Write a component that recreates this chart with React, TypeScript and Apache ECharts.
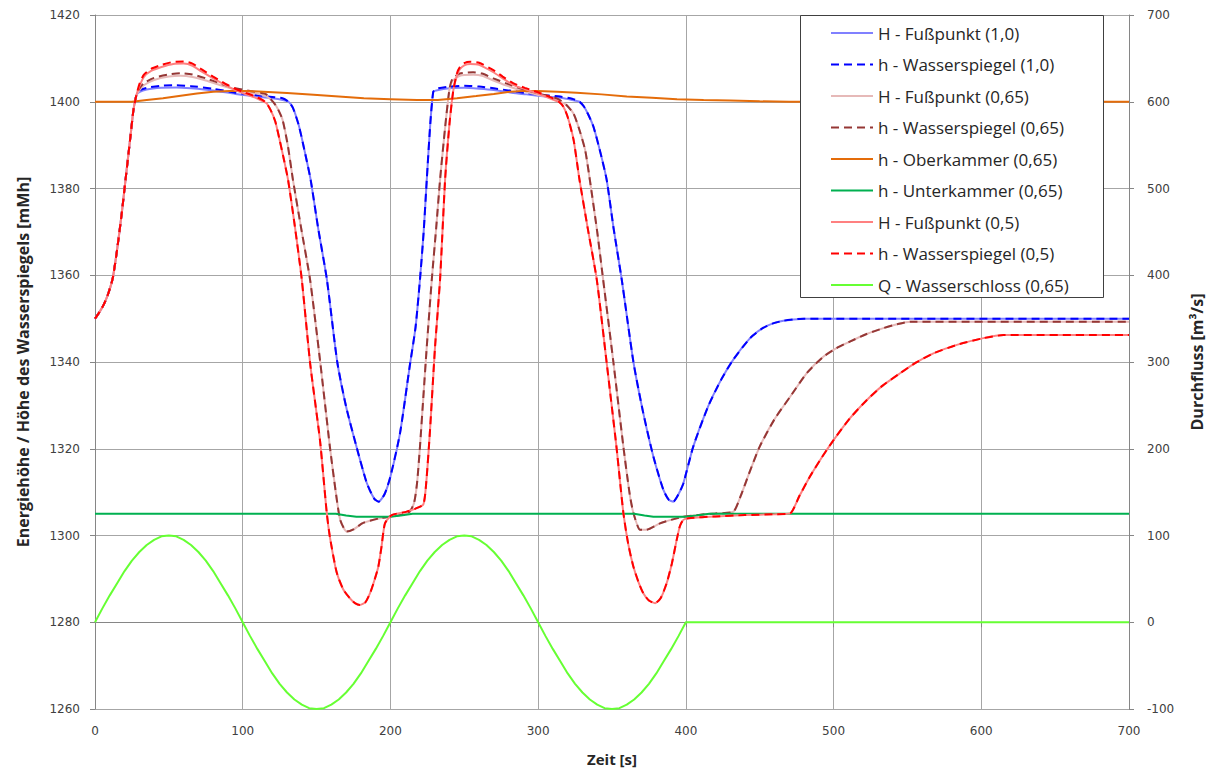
import React, { useEffect, useRef } from "react";
import * as echarts from "echarts";

type Pt = [number, number];

// Shared start of all Fußpunkt / Wasserspiegel curves (t [s], height [mMh])
const commonRise: Pt[] = [
  [0, 1350], [3, 1351.5], [6, 1353.3], [9, 1355.8], [12, 1359.3], [15, 1366], [18, 1374],
  [21, 1383], [24, 1392], [26, 1398], [28, 1401.5],
];

// ---- Variante (1,0) ----
const blueWsPeak1: Pt[] = [
  [30, 1402.6], [35, 1403.2], [45, 1403.7], [55, 1403.8], [65, 1403.6], [80, 1403],
  [95, 1402.1], [110, 1401.5], [120, 1401.1], [127, 1400.8],
];
const blueFpPeak1: Pt[] = [
  [30, 1402.2], [35, 1402.8], [45, 1403.2], [55, 1403.3], [65, 1403.1], [80, 1402.6],
  [95, 1401.8], [110, 1401.2], [120, 1400.8], [127, 1400.4],
];
const blueCycle1: Pt[] = [
  [131, 1400], [134, 1398.6], [138, 1394.5], [142, 1388.5], [146, 1382], [151, 1371],
  [157, 1359], [164, 1340], [170, 1329.7], [177, 1320.5], [184, 1312.1], [189, 1308.5],
  [192, 1307.8], [196, 1309.5], [200, 1313.6], [206.5, 1323.6], [213, 1338.9], [217, 1348],
  [220, 1359], [222.5, 1370], [224.6, 1382], [227, 1395], [229, 1402.3],
];
const blueWsPeak2: Pt[] = [
  [231, 1403], [240, 1403.5], [250, 1403.7], [260, 1403.5], [270, 1403.1], [282, 1402.5],
  [292, 1402], [305, 1401.5], [315, 1401.2], [323, 1400.7],
];
const blueFpPeak2: Pt[] = [
  [231, 1402.6], [240, 1403.1], [250, 1403.2], [260, 1403], [270, 1402.7], [282, 1402.1],
  [292, 1401.7], [305, 1401.2], [315, 1400.9], [323, 1400.4],
];
const blueTail: Pt[] = [
  [328, 1400], [331, 1398.9], [334, 1397], [337.4, 1394.3], [342, 1388.5], [346.4, 1382],
  [351, 1371], [356.6, 1359], [364.5, 1340], [371, 1328.5], [378, 1318.2], [384.8, 1310.5],
  [388.5, 1308.2], [391.5, 1307.8], [395, 1309.5], [398.3, 1312], [405, 1320.5], [415, 1329.7],
  [424, 1336], [432, 1340.5], [443.5, 1345.5], [452, 1347.8], [459, 1348.9], [466, 1349.5],
  [473, 1349.8], [480, 1350], [700, 1350],
];

// ---- Variante (0,65) ----
const brownWsPeak1: Pt[] = [
  [30, 1403], [33, 1404.3], [40, 1405.5], [50, 1406.3], [58, 1406.6], [66, 1406.3],
  [75, 1405.4], [85, 1404.2], [95, 1403.1], [105, 1402.5], [112, 1402.1], [116, 1401.7],
];
const brownFpPeak1: Pt[] = [
  [30, 1402.6], [33, 1403.8], [40, 1405], [50, 1405.8], [58, 1406], [66, 1405.7],
  [75, 1404.9], [85, 1403.8], [95, 1402.8], [105, 1402.1], [112, 1401.7], [116, 1401.3],
];
const brownCycle1: Pt[] = [
  [121, 1399.8], [124, 1398.2], [127, 1395.8], [130.5, 1390], [134, 1382], [140, 1370],
  [145.6, 1359], [152.3, 1340.5], [159, 1320.5], [163, 1310], [166, 1303.6], [170.4, 1300.9],
  [175, 1301.4], [181.5, 1302.9], [193, 1304], [206.5, 1304.7], [213, 1305.5], [216, 1307.5],
  [218, 1312], [220, 1320.5], [222.5, 1333], [224.6, 1343.5], [228, 1359], [231, 1371],
  [233.6, 1382], [237, 1394], [240, 1403],
];
const brownWsPeak2: Pt[] = [
  [242, 1405.3], [247, 1406.5], [256, 1406.8], [262, 1406.5], [269.7, 1405.4], [278, 1404.3],
  [287.7, 1403.1], [296, 1402.3], [303.5, 1401.6], [310, 1401.1], [314.8, 1400.4],
];
const brownFpPeak2: Pt[] = [
  [242, 1404.8], [247, 1406], [256, 1406.2], [262, 1406], [269.7, 1404.9], [278, 1403.8],
  [287.7, 1402.7], [296, 1401.9], [303.5, 1401.3], [310, 1400.8], [314.8, 1400.1],
];
const brownTail: Pt[] = [
  [319, 1399.3], [323.9, 1397.3], [327.5, 1394], [331.8, 1388.9], [335, 1382], [340, 1370],
  [344, 1359], [351, 1339.8], [357.7, 1320.5], [362, 1309.5], [364.5, 1305.2], [369, 1301.3],
  [373, 1301.3], [382.5, 1302.8], [390, 1303.6], [398.3, 1304.3], [410, 1304.8], [420, 1305.1],
  [432.2, 1305.5], [437, 1309], [443, 1314.5], [450, 1320.5], [460, 1326.8], [470.6, 1332],
  [482, 1337.5], [493, 1341.2], [502, 1343.2], [511, 1344.7], [522, 1346.4], [533.7, 1347.8],
  [543, 1348.7], [551.8, 1349.3], [700, 1349.3],
];

// ---- Variante (0,5) ----
const redWsPeak1: Pt[] = [
  [30, 1404], [33, 1406.2], [38, 1407.6], [45, 1408.5], [53, 1409.2], [60, 1409.3],
  [66, 1408.8], [72, 1407.5], [80, 1405.8], [88, 1404.2], [95, 1403], [100, 1402.3],
  [108, 1401.3], [113, 1400.5],
];
const redFpPeak1: Pt[] = [
  [30, 1403.5], [33, 1405.7], [38, 1407.1], [45, 1408], [53, 1408.7], [60, 1408.8],
  [66, 1408.3], [72, 1407], [80, 1405.4], [88, 1403.9], [95, 1402.7], [100, 1402],
  [108, 1401], [113, 1400.2],
];
const redCycle1: Pt[] = [
  [116, 1399.7], [119, 1398], [122, 1395.5], [125, 1391.2], [128, 1386.5], [130.7, 1382],
  [135, 1372], [140, 1359], [145.6, 1339.8], [152.3, 1322], [156.9, 1305.2], [159, 1299.7],
  [163.6, 1291.5], [168, 1287.6], [172.6, 1285.5], [176, 1284.4], [179.4, 1284], [183, 1284.6],
  [186.2, 1286.7], [189, 1289.5], [191.8, 1292.8], [194, 1297.5], [196.3, 1302.8],
  [200.9, 1304.7], [211, 1305.5], [217, 1306.2], [222.3, 1307.2], [224.2, 1312],
  [226.8, 1324.3], [230.2, 1343.5], [233.6, 1359], [237, 1382], [240, 1395], [242.6, 1402.7],
];
const redWsPeak2: Pt[] = [
  [245, 1406.5], [247, 1408], [250, 1408.9], [254, 1409.2], [260, 1409], [269.7, 1407.3],
  [276, 1405.8], [283, 1404.3], [291, 1403.2], [299, 1402.3], [305, 1401.5], [310, 1400.8],
];
const redFpPeak2: Pt[] = [
  [245, 1406], [247, 1407.5], [250, 1408.4], [254, 1408.7], [260, 1408.5], [269.7, 1406.8],
  [276, 1405.4], [283, 1403.9], [291, 1402.9], [299, 1402], [305, 1401.2], [310, 1400.5],
];
const redTail: Pt[] = [
  [314, 1400], [317, 1398.9], [320, 1396.5], [324, 1391.2], [328, 1382], [334, 1370],
  [339.7, 1359], [346.4, 1339.8], [353, 1320.5], [357.7, 1305.2], [361, 1298], [364.5, 1292.8],
  [368, 1289.2], [371.2, 1286.7], [375, 1285], [379.2, 1284.4], [383, 1285.6], [387, 1289],
  [390.5, 1293.5], [393.8, 1299], [396, 1302.2], [398.3, 1303.6], [401.7, 1304], [420, 1304.4],
  [440, 1304.7], [460, 1304.9], [470.6, 1305.1], [477, 1309.2], [484, 1313.6], [492, 1318],
  [500, 1322], [511, 1327], [522.4, 1331.2], [533, 1334.5], [545, 1337.4], [556, 1339.9],
  [567.6, 1342], [584, 1344], [601.4, 1345.5], [615, 1346.2], [700, 1346.2],
];

// Kammerwasserspiegel
const oberkammer: Pt[] = [
  [0, 1400], [25, 1400], [35, 1400.4], [46, 1400.8], [58, 1401.4], [69, 1401.9], [80, 1402.3],
  [91, 1402.5], [102, 1402.5], [114, 1402.3], [130, 1402], [148, 1401.6], [165, 1401.2],
  [182, 1400.8], [200, 1400.6], [218, 1400.4], [232, 1400.4], [245, 1400.8], [258, 1401.3],
  [270, 1401.8], [281, 1402.3], [290, 1402.5], [300, 1402.5], [313, 1402.3], [326, 1402.1],
  [343, 1401.7], [360, 1401.2], [377, 1400.9], [394, 1400.6], [412, 1400.4], [430, 1400.3],
  [450, 1400.1], [470, 1400], [700, 1400],
];
const unterkammer: Pt[] = [
  [0, 1305], [163, 1305], [170, 1304.6], [177, 1304.3], [200, 1304.3], [207, 1304.6],
  [215, 1305], [365, 1305], [372, 1304.6], [378, 1304.3], [400, 1304.3], [407, 1304.6],
  [416, 1305], [700, 1305],
];

// Durchfluss Wasserschloss [m³/s], every 5 s up to 400 s, then zero
const qTime = [
  0, 5, 10, 15, 20, 25, 30, 35, 40, 45, 50, 55, 60, 65, 70, 75, 80, 85, 90, 95,
  100, 105, 110, 115, 120, 125, 130, 135, 140, 145, 150, 155, 160, 165, 170, 175, 180, 185, 190, 195,
  200, 205, 210, 215, 220, 225, 230, 235, 240, 245, 250, 255, 260, 265, 270, 275, 280, 285, 290, 295,
  300, 305, 310, 315, 320, 325, 330, 335, 340, 345, 350, 355, 360, 365, 370, 375, 380, 385, 390, 395,
  400, 700,
];
const qFlow = [
  0, 16, 31, 45, 59, 71, 81, 89, 95, 99, 100, 99, 95, 89, 81, 71, 59, 45, 31, 16,
  0, -16, -31, -45, -59, -71, -81, -89, -95, -99, -100, -99, -95, -89, -81, -71, -59, -45, -31, -16,
  0, 16, 31, 45, 59, 71, 81, 89, 95, 99, 100, 99, 95, 89, 81, 71, 59, 45, 31, 16,
  0, -16, -31, -45, -59, -71, -81, -89, -95, -99, -100, -99, -95, -89, -81, -71, -59, -45, -31, -16,
  0, 0,
];

const FONT_TICK = "DejaVu Sans";
const FONT_TEXT = "Open Sans";

export default function App() {
  const ref = useRef<HTMLDivElement>(null);

  useEffect(() => {
    if (!ref.current) return;
    const chart = echarts.init(ref.current, undefined, { renderer: "svg" });

    const dash = [8, 5];
    const line = (
      name: string,
      data: Pt[],
      color: string,
      dashed: boolean,
      yAxisIndex = 0,
      smooth: number | boolean = 0.2
    ) => ({
      name,
      type: "line",
      data,
      yAxisIndex,
      symbol: "none",
      showSymbol: false,
      smooth,
      lineStyle: { color, width: 2, type: dashed ? dash : "solid" },
      itemStyle: { color },
      emphasis: { disabled: true },
      z: 2,
    });

    const qData: Pt[] = qTime.map((t, i) => [t, qFlow[i]]);

    const axisGray = "#868686";
    const gridGray = "#a6a6a6";
    const labelColor = "#404040";
    const plain = (v: number) => String(v);

    chart.setOption({
      animation: false,
      backgroundColor: "#ffffff",
      grid: { left: 95, right: 85, top: 15, bottom: 64, containLabel: false },
      xAxis: {
        type: "value",
        min: 0,
        max: 700,
        interval: 100,
        name: "Zeit [s]",
        nameLocation: "middle",
        nameGap: 42,
        nameTextStyle: { fontFamily: FONT_TEXT, fontWeight: "bold", fontSize: 15, color: "#262626" },
        axisLine: { lineStyle: { color: axisGray, width: 1 } },
        axisTick: { show: true, inside: false, length: 5, lineStyle: { color: axisGray } },
        splitLine: { show: true, lineStyle: { color: gridGray, width: 1 } },
        axisLabel: { color: labelColor, fontFamily: FONT_TICK, fontSize: 12, margin: 16, formatter: plain },
      },
      yAxis: [
        {
          type: "value",
          position: "left",
          min: 1260,
          max: 1420,
          interval: 20,
          name: "Energiehöhe / Höhe des Wasserspiegels [mMh]",
          nameLocation: "middle",
          nameGap: 64,
          nameTextStyle: { fontFamily: FONT_TEXT, fontWeight: "bold", fontSize: 16, color: "#262626" },
          axisLine: { show: true, lineStyle: { color: axisGray, width: 1 } },
          axisTick: { show: true, inside: false, length: 5, lineStyle: { color: axisGray } },
          splitLine: { show: true, lineStyle: { color: gridGray, width: 1 } },
          axisLabel: { color: labelColor, fontFamily: FONT_TICK, fontSize: 12, margin: 15, formatter: plain },
        },
        {
          type: "value",
          position: "right",
          min: -100,
          max: 700,
          interval: 100,
          name: "Durchfluss [m³/s]",
          nameLocation: "middle",
          nameGap: 60,
          nameTextStyle: { fontFamily: FONT_TEXT, fontWeight: "bold", fontSize: 16, color: "#262626" },
          axisLine: { show: true, lineStyle: { color: axisGray, width: 1 } },
          axisTick: { show: true, inside: false, length: 5, lineStyle: { color: axisGray } },
          splitLine: { show: false },
          axisLabel: { color: labelColor, fontFamily: FONT_TICK, fontSize: 12, margin: 18, formatter: plain },
        },
      ],
      legend: {
        orient: "vertical",
        left: 830,
        top: 24,
        padding: 0,
        itemWidth: 42,
        itemHeight: 18,
        itemGap: 13.5,
        selectedMode: false,
        itemStyle: { opacity: 0 },
        textStyle: { fontFamily: FONT_TEXT, fontSize: 17, color: "#262626", lineHeight: 18 },
        z: 5,
      },
      graphic: [
        {
          type: "rect",
          z: 4,
          shape: { x: 800.5, y: 15.5, width: 303, height: 282 },
          style: { fill: "#ffffff", stroke: "#404040", lineWidth: 1 },
        },
      ],
      series: [
        line("H - Fußpunkt (1,0)", [...commonRise, ...blueFpPeak1, ...blueCycle1, ...blueFpPeak2, ...blueTail], "#8080ff", false),
        line("h - Wasserspiegel (1,0)", [...commonRise, ...blueWsPeak1, ...blueCycle1, ...blueWsPeak2, ...blueTail], "#0000ff", true),
        line("H - Fußpunkt (0,65)", [...commonRise, ...brownFpPeak1, ...brownCycle1, ...brownFpPeak2, ...brownTail], "#e6b9b8", false),
        line("h - Wasserspiegel (0,65)", [...commonRise, ...brownWsPeak1, ...brownCycle1, ...brownWsPeak2, ...brownTail], "#953735", true),
        line("h - Oberkammer (0,65)", oberkammer, "#e46c0a", false, 0, false),
        line("h - Unterkammer (0,65)", unterkammer, "#00b050", false, 0, false),
        line("H - Fußpunkt (0,5)", [...commonRise, ...redFpPeak1, ...redCycle1, ...redFpPeak2, ...redTail], "#ff8080", false),
        line("h - Wasserspiegel (0,5)", [...commonRise, ...redWsPeak1, ...redCycle1, ...redWsPeak2, ...redTail], "#ff0000", true),
        line("Q - Wasserschloss (0,65)", qData, "#66ff33", false, 1, false),
      ],
    });

    return () => chart.dispose();
  }, []);

  return (
    <div
      ref={ref}
      style={{ position: "fixed", left: 0, top: 0, width: 1214, height: 773, background: "#fff" }}
    />
  );
}
